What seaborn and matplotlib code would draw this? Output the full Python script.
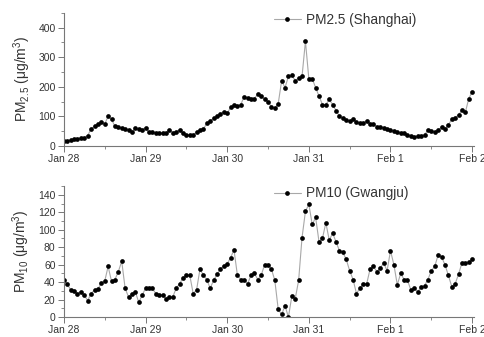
import numpy as np
import pandas as pd
import matplotlib
matplotlib.use('Agg')
import matplotlib.pyplot as plt
import seaborn as sns
from matplotlib.ticker import MultipleLocator

# hourly values, Jan 28 00:00 .. Feb 2 00:00
pm25_shanghai = [17, 18, 20, 23, 25, 26, 28, 35, 58, 66, 73, 81, 74, 100, 90, 66, 63, 61, 56, 54,
                 47, 59, 56, 54, 62, 46, 48, 43, 43, 43, 43, 54, 45, 47, 54, 43, 38, 36, 38, 46,
                 54, 57, 76, 85, 93, 100, 108, 115, 110, 130, 138, 134, 140, 167, 162, 160, 160, 175, 168, 158,
                 150, 132, 127, 143, 220, 197, 235, 239, 220, 230, 235, 354, 227, 227, 197, 168, 140, 140, 157, 140,
                 119, 101, 93, 87, 85, 90, 82, 76, 76, 85, 74, 74, 65, 63, 62, 56, 54, 50, 46, 45,
                 43, 37, 34, 29, 35, 35, 37, 54, 51, 48, 54, 63, 57, 71, 90, 96, 104, 121, 113, 160,
                 183]
pm10_gwangju = [42, 38, 31, 30, 27, 29, 25, 19, 27, 31, 32, 39, 41, 58, 41, 43, 52, 64, 33, 23,
                27, 29, 17, 25, 33, 33, 33, 27, 25, 25, 21, 23, 23, 33, 38, 45, 48, 48, 27, 31,
                55, 48, 43, 33, 42, 49, 55, 59, 61, 68, 77, 48, 43, 43, 38, 48, 50, 43, 48, 60,
                60, 55, 42, 9, 3, 13, 0, 24, 21, 42, 91, 121, 129, 106, 114, 86, 90, 108, 88, 96,
                86, 76, 74, 66, 53, 43, 27, 33, 38, 38, 55, 58, 52, 56, 62, 53, 76, 60, 37, 50,
                43, 42, 31, 33, 29, 34, 36, 43, 53, 58, 71, 69, 60, 48, 35, 38, 49, 62, 62, 63,
                66]
hours = list(range(len(pm25_shanghai)))
day_labels = ['Jan 28', 'Jan 29', 'Jan 30', 'Jan 31', 'Feb 1', 'Feb 2']
day_ticks = [0, 24, 48, 72, 96, 120]

sns.set_style('ticks')
plt.rcParams['font.family'] = ['Liberation Sans', 'DejaVu Sans']
plt.rcParams['mathtext.fontset'] = 'custom'
plt.rcParams['mathtext.rm'] = 'Liberation Sans'
plt.rcParams['mathtext.it'] = 'Liberation Sans'

fig = plt.figure(figsize=(4.84, 3.37), dpi=100)
ax1 = fig.add_axes([0.132, 0.567, 0.847, 0.395])
ax2 = fig.add_axes([0.132, 0.059, 0.847, 0.389])

df = pd.DataFrame({'hour': hours, 'pm25': pm25_shanghai, 'pm10': pm10_gwangju})

def draw(ax, col, label, ylab, ymax, major, minor):
    sns.lineplot(data=df, x='hour', y=col, ax=ax, color='#a8a8a8', lw=0.8,
                 marker='o', markersize=3.4, markerfacecolor='black',
                 markeredgecolor='black', markeredgewidth=0, label=label)
    ax.set_xlim(0, 120.5)
    ax.set_ylim(0, ymax)
    ax.set_xticks(day_ticks)
    ax.set_xticklabels(day_labels)
    ax.xaxis.set_minor_locator(MultipleLocator(12))
    ax.yaxis.set_major_locator(MultipleLocator(major))
    ax.yaxis.set_minor_locator(MultipleLocator(minor))
    ax.set_xlabel('')
    ax.set_ylabel(ylab, fontsize=10, color='#333333', labelpad=4)
    sns.despine(ax=ax)
    for s in ['left', 'bottom']:
        ax.spines[s].set_color('#777777')
        ax.spines[s].set_linewidth(0.8)
    ax.tick_params(which='major', length=4, width=0.7, color='#777777',
                   labelsize=7.5, labelcolor='#333333', pad=2)
    ax.tick_params(which='minor', length=2.5, width=0.6, color='#777777')
    leg = ax.legend(loc='upper left', bbox_to_anchor=(0.495, 1.05), frameon=False,
                    fontsize=9.8, handlelength=2.0, handletextpad=0.35,
                    borderaxespad=0.1)
    for t in leg.get_texts():
        t.set_color('#333333')

draw(ax1, 'pm25', 'PM2.5 (Shanghai)', 'PM$_{2.5}$ (μg/m$^3$)', 450, 100, 50)
draw(ax2, 'pm10', 'PM10 (Gwangju)', 'PM$_{10}$ (μg/m$^3$)', 150, 20, 10)

fig.savefig('out.png', dpi=100)
